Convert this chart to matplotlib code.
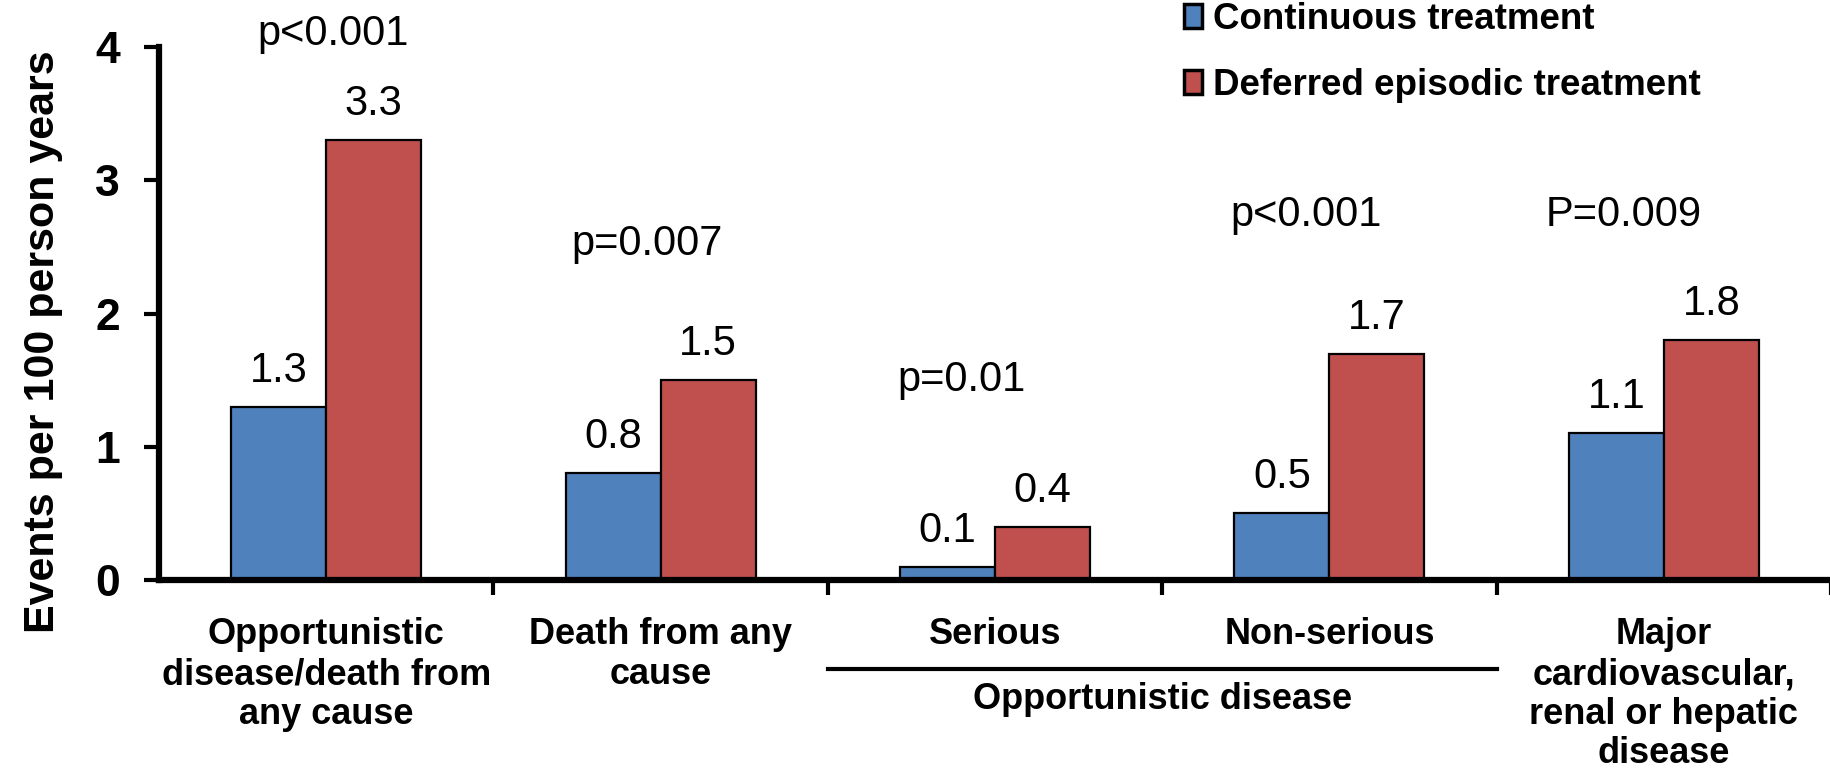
import matplotlib
matplotlib.use("Agg")
import matplotlib.pyplot as plt
from matplotlib.patches import Patch
import numpy as np

# data
categories = [
    "Opportunistic\ndisease/death from\nany cause",
    "Death from any\ncause",
    "Serious",
    "Non-serious",
    "Major\ncardiovascular,\nrenal or hepatic\ndisease",
]
continuous = [1.3, 0.8, 0.1, 0.5, 1.1]
deferred = [3.3, 1.5, 0.4, 1.7, 1.8]
p_labels = ["p<0.001", "p=0.007", "p=0.01", "p<0.001", "P=0.009"]
p_label_x = [0.02, 0.96, 1.90, 2.93, 3.88]
p_label_y = [4.10, 2.52, 1.50, 2.74, 2.74]
series_names = ["Continuous treatment", "Deferred episodic treatment"]

BLUE = "#4F81BD"
RED = "#C0504D"
FONT = "Liberation Sans"

plt.rcParams["font.family"] = [FONT, "DejaVu Sans"]

fig = plt.figure(figsize=(18.31, 7.70), dpi=100)
ax = fig.add_axes([0.0868, 0.2468, 0.9132, 0.692])

x = np.arange(len(categories))
w = 0.284
b1 = ax.bar(x - w / 2, continuous, w, color=BLUE, edgecolor="black", linewidth=1.6, zorder=2)
b2 = ax.bar(x + w / 2, deferred, w, color=RED, edgecolor="black", linewidth=1.6, zorder=2)

# value labels above bars
for bars, vals in [(b1, continuous), (b2, deferred)]:
    for bar, v in zip(bars, vals):
        ax.text(bar.get_x() + bar.get_width() / 2, v + 0.27, f"{v:.1f}",
                ha="center", va="center", fontsize=30)

# p-values
for px, py, txt in zip(p_label_x, p_label_y, p_labels):
    ax.text(px, py, txt, ha="center", va="center", fontsize=30)

ax.set_xlim(-0.5, 4.48)
ax.set_ylim(0, 4)

for s in ["top", "right"]:
    ax.spines[s].set_visible(False)
ax.spines["left"].set_linewidth(4.5)
ax.spines["bottom"].set_linewidth(4.5)

ax.set_yticks([0, 1, 2, 3, 4])
ax.tick_params(axis="y", direction="out", length=11, width=3, pad=17, labelsize=32)
for lbl in ax.get_yticklabels():
    lbl.set_fontweight("bold")

ax.set_xticks(x)
ax.set_xticklabels(categories, fontsize=26, fontweight="bold", linespacing=1.17, va="top")
ax.tick_params(axis="x", which="major", length=0, pad=27)
ax.set_xticks(np.arange(len(categories)) + 0.5, minor=True)
ax.tick_params(axis="x", which="minor", direction="out", length=11, width=3)

ax.set_ylabel("Events per 100 person years", fontsize=31, fontweight="bold")
ax.yaxis.set_label_coords(-0.0574, 0.448)

# group bracket for opportunistic disease
ax.plot([1.5, 3.5], [-0.667, -0.667], color="black", linewidth=3, clip_on=False)
ax.text(2.5, -0.90, "Opportunistic disease", ha="center", va="center",
        fontsize=26, fontweight="bold")

handles = [Patch(facecolor=BLUE, edgecolor="black", linewidth=2.5),
           Patch(facecolor=RED, edgecolor="black", linewidth=2.5)]
leg = fig.legend(handles, series_names, loc="upper left",
                 bbox_to_anchor=(1182 / 1831, 1.0), frameon=False,
                 prop={"family": FONT, "weight": "bold", "size": 26.5},
                 handlelength=0.5, handleheight=0.6, handletextpad=0.3,
                 labelspacing=0.85, borderpad=0.05, borderaxespad=0)

fig.savefig("out.png", dpi=100)
